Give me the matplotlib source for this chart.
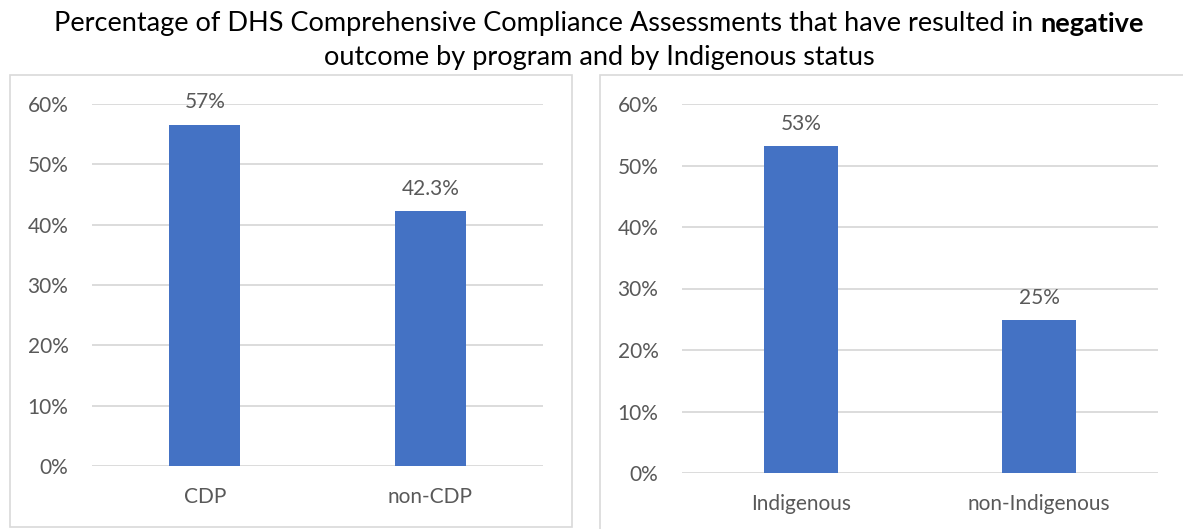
import matplotlib.pyplot as plt
from matplotlib.patches import Rectangle

plt.rcParams['font.family'] = ['Lato', 'DejaVu Sans']

"""
data read from the reference
"""
prog_labels = ["CDP", "non-CDP"]
prog_values = [56.6, 42.3]
prog_text = ["57%", "42.3%"]

status_labels = ["Indigenous", "non-Indigenous"]
status_values = [53.1, 24.8]
status_text = ["53%", "25%"]

yticks = [0, 10, 20, 30, 40, 50, 60]

blue = "#4472C4"
grid = "#D9D9D9"
txt = "#595959"

W, H = 1183, 529
fig = plt.figure(figsize=(W / 100, H / 100), dpi=100)


def px_axes(x0, y0, x1, y1):
    return fig.add_axes([x0 / W, 1 - y1 / H, (x1 - x0) / W, (y1 - y0) / H])


# panel borders
fig.patches.append(Rectangle((10 / W, 1 - 527 / H), 562 / W, 452 / H,
                             transform=fig.transFigure, fill=False,
                             edgecolor=grid, lw=1.2))
fig.patches.append(Rectangle((600 / W, -0.1), 700 / W, 1.1 - 75 / H,
                             transform=fig.transFigure, fill=False,
                             edgecolor=grid, lw=1.2))

lsize = 15


def panel(ax, labels, values, texts, width):
    ax.bar(range(len(values)), values, width=width, color=blue, zorder=3)
    for i, (v, t) in enumerate(zip(values, texts)):
        ax.text(i, v + 2.0, t, ha="center", va="bottom", fontsize=lsize,
                color=txt, clip_on=False, zorder=4)
    ax.set_xlim(-0.5, len(values) - 0.5)
    ax.set_ylim(0, 60)
    ax.set_yticks(yticks)
    ax.set_yticklabels(["%d%%" % t for t in yticks])
    ax.set_xticks(range(len(labels)))
    ax.set_xticklabels(labels)
    ax.grid(axis="y", color=grid, lw=1.3, zorder=0)
    ax.tick_params(axis="y", length=0, pad=17, labelsize=lsize, labelcolor=txt)
    ax.tick_params(axis="x", length=0, pad=15, labelsize=lsize, labelcolor=txt)
    for s in ax.spines.values():
        s.set_visible(False)
    ax.set_facecolor("none")


ax1 = px_axes(92, 104, 543, 466)
panel(ax1, prog_labels, prog_values, prog_text, 0.315)

ax2 = px_axes(682, 104, 1158, 473)
panel(ax2, status_labels, status_values, status_text, 0.31)

# title, with "negative" in bold
fs = 19.5
r = fig.canvas.get_renderer()
parts = [("Percentage of DHS Comprehensive Compliance Assessments that have resulted in ", "normal"),
         ("negative", "bold")]
items = [fig.text(0, 1 - 24 / H, s, fontsize=fs, fontweight=w, color="black",
                  va="center", ha="left") for s, w in parts]
widths = [t.get_window_extent(r).width for t in items]
x = 599 - sum(widths) / 2
for t, w in zip(items, widths):
    t.set_x(x / W)
    x += w
fig.text(599 / W, 1 - 58 / H, "outcome by program and by Indigenous status",
         fontsize=fs, ha="center", va="center", color="black")

fig.savefig("out.png", dpi=100)
